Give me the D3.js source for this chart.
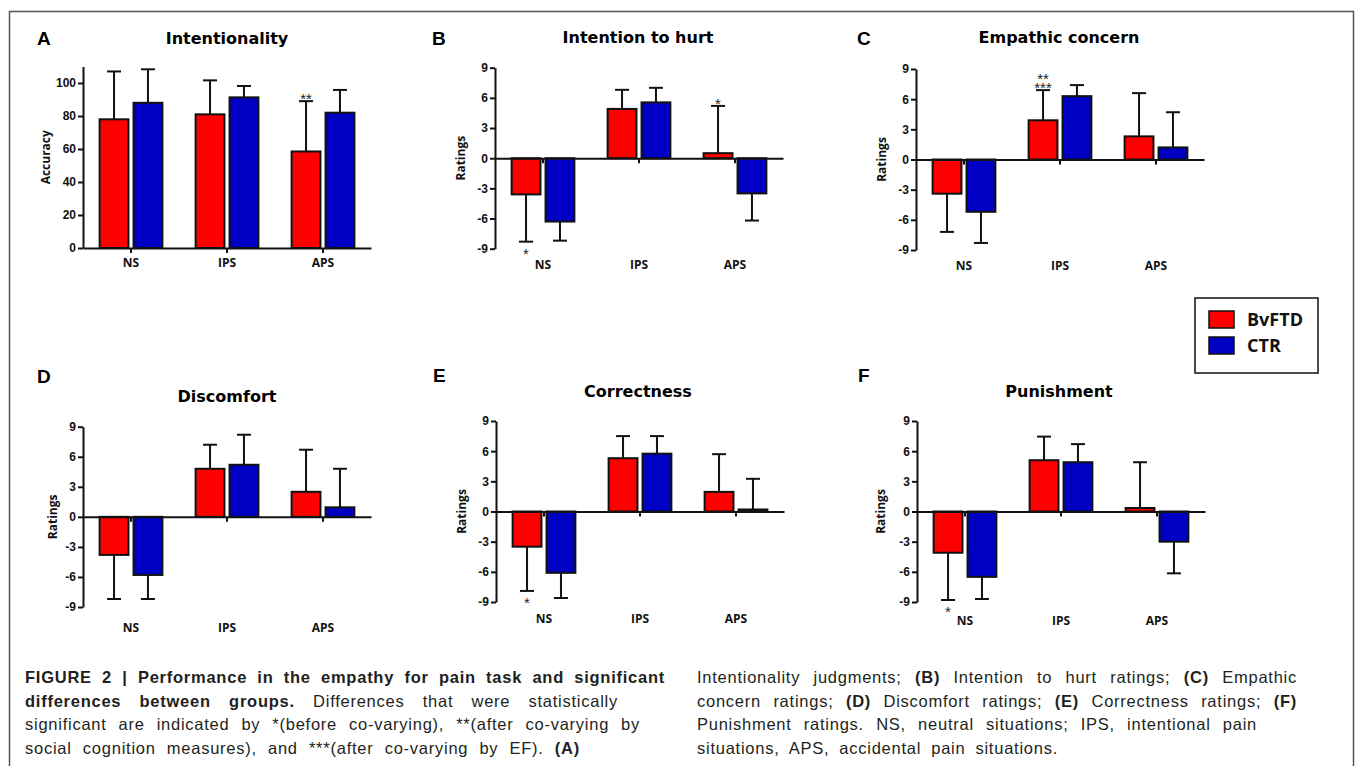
<!DOCTYPE html>
<html>
<head>
<meta charset="utf-8">
<script src="https://cdn.jsdelivr.net/npm/d3@7"></script>
<style>
  body { margin: 0; background: #fff; }
  svg { display: block; }
</style>
</head>
<body>
<svg width="1355" height="766"></svg>
<script>
// ---- data ----
const categories = ['NS', 'IPS', 'APS']
const groups = ['BvFTD', 'CTR']
const groupColors = ['#ff0000', '#0000c4']

const panelLetters = ['A', 'B', 'C', 'D', 'E', 'F']
const panelTitles = ['Intentionality', 'Intention to hurt', 'Empathic concern', 'Discomfort', 'Correctness', 'Punishment']
const yTitles = ['Accuracy', 'Ratings', 'Ratings', 'Ratings', 'Ratings', 'Ratings']

// one row per panel, values in category order NS, IPS, APS
const bvftdMeans = [
  [78, 81, 58.5],
  [-3.6, 4.9, 0.5],
  [-3.4, 3.9, 2.3],
  [-3.8, 4.8, 2.5],
  [-3.5, 5.3, 1.95],
  [-4.1, 5.1, 0.35]
]
const bvftdErrTips = [
  [107, 101.6, 89],
  [-8.3, 6.8, 5.2],
  [-7.2, 6.9, 6.6],
  [-8.2, 7.2, 6.7],
  [-7.9, 7.5, 5.7],
  [-8.8, 7.45, 4.9]
]
const ctrMeans = [
  [88, 91.3, 82],
  [-6.3, 5.55, -3.5],
  [-5.2, 6.3, 1.2],
  [-5.8, 5.2, 0.95],
  [-6.1, 5.75, 0.2],
  [-6.5, 4.9, -3.0]
]
const ctrErrTips = [
  [108.3, 98.2, 95.8],
  [-8.2, 7.0, -6.2],
  [-8.3, 7.4, 4.7],
  [-8.2, 8.2, 4.8],
  [-8.6, 7.5, 3.25],
  [-8.7, 6.7, -6.15]
]

const accuracyTicks = [0, 20, 40, 60, 80, 100]
const accuracyDomain = [0, 110]
const ratingTicks = [-9, -6, -3, 0, 3, 6, 9]
const ratingDomain = [-9, 9]

// significance marks (all on the BvFTD bar)
const sigPanels = [0, 1, 1, 2, 4, 5]
const sigCats = ['APS', 'NS', 'APS', 'IPS', 'NS', 'NS']
const sigMarks = [['**'], ['*'], ['*'], ['**', '***'], ['*'], ['*']]

// ---- layout (pixels) ----
const layout = [
  {x0: 83,  yTop: 66.5,  yBot: 248,   letter: [37, 45],   title: [227, 44],  ylab: 46,  catDy: 19},
  {x0: 495, yTop: 67.7,  yBot: 248.7, letter: [432, 45],  title: [638, 43],  ylab: 461, catDy: 20},
  {x0: 916, yTop: 69,    yBot: 250,   letter: [857, 45],  title: [1059, 43], ylab: 882, catDy: 20},
  {x0: 83,  yTop: 426.7, yBot: 607,   letter: [37, 383],  title: [227, 402], ylab: 53,  catDy: 25},
  {x0: 496, yTop: 421,   yBot: 602,   letter: [433, 382], title: [638, 397], ylab: 462, catDy: 21},
  {x0: 917, yTop: 421,   yBot: 602,   letter: [858, 382], title: [1059, 397], ylab: 881, catDy: 23}
]
const bandWidth = 288

const svg = d3.select('svg')
svg.append('rect').attr('width', 1355).attr('height', 766).attr('fill', '#fff')

// figure frame
svg.append('path')
  .attr('d', 'M9.5,780 V11.5 H1353.5 V780')
  .attr('fill', 'none')
  .attr('stroke', '#555')
  .attr('stroke-width', 1.5)

const boldSans = '"Liberation Sans", Arial, sans-serif'
const labelFont = '"Open Sans", sans-serif'

layout.forEach((L, p) => {
  const isAcc = p === 0
  const y = d3.scaleLinear()
    .domain(isAcc ? accuracyDomain : ratingDomain)
    .range([L.yBot, L.yTop])
  const x = d3.scaleBand().domain(categories).range([L.x0, L.x0 + bandWidth])
  const xg = d3.scaleBand().domain(groups).range([0, x.bandwidth()])
    .paddingInner(0.15).paddingOuter(0.49)

  const g = svg.append('g')

  g.append('text')
    .attr('x', L.letter[0]).attr('y', L.letter[1])
    .attr('font-family', boldSans).attr('font-weight', 'bold')
    .attr('font-size', 19).text(panelLetters[p])

  g.append('text')
    .attr('x', L.title[0]).attr('y', L.title[1])
    .attr('text-anchor', 'middle')
    .attr('font-family', '"DejaVu Sans", sans-serif').attr('font-weight', 'bold')
    .attr('font-size', 16).text(panelTitles[p])

  const rows = categories.map((c, i) => [
    {cat: c, grp: 0, v: bvftdMeans[p][i], e: bvftdErrTips[p][i]},
    {cat: c, grp: 1, v: ctrMeans[p][i], e: ctrErrTips[p][i]}
  ]).flat()
  const cx = d => x(d.cat) + xg(groups[d.grp]) + xg.bandwidth() / 2

  // error bars
  const eb = g.selectAll('.err').data(rows).enter().append('g')
    .attr('stroke', '#111').attr('stroke-width', 2)
  eb.append('line')
    .attr('x1', cx).attr('x2', cx)
    .attr('y1', d => y(d.v)).attr('y2', d => y(d.e))
  eb.append('line')
    .attr('x1', d => cx(d) - 7).attr('x2', d => cx(d) + 7)
    .attr('y1', d => y(d.e)).attr('y2', d => y(d.e))

  g.selectAll('.bar').data(rows).enter().append('rect')
    .attr('x', d => x(d.cat) + xg(groups[d.grp]))
    .attr('width', xg.bandwidth())
    .attr('y', d => Math.min(y(d.v), y(0)))
    .attr('height', d => Math.abs(y(d.v) - y(0)))
    .attr('fill', d => groupColors[d.grp])
    .attr('stroke', '#111').attr('stroke-width', 2)

  // y axis
  const yAxis = g.append('g')
    .attr('transform', `translate(${L.x0},0)`)
    .call(d3.axisLeft(y).tickValues(isAcc ? accuracyTicks : ratingTicks)
      .tickSize(5).tickSizeOuter(0).tickPadding(2).tickFormat(d => String(d)))
  yAxis.selectAll('path, line').attr('stroke', '#111').attr('stroke-width', 2)
  yAxis.selectAll('text')
    .attr('font-family', boldSans).attr('font-weight', 'bold')
    .attr('font-size', 12).attr('fill', '#111')

  // x axis along zero
  const xAxis = g.append('g')
    .attr('transform', `translate(0,${y(0)})`)
    .call(d3.axisBottom(x).tickSize(5).tickSizeOuter(0).tickFormat(''))
  xAxis.selectAll('path, line').attr('stroke', '#111').attr('stroke-width', 2)

  // category labels under the plot
  g.selectAll('.cat').data(categories).enter().append('text')
    .attr('x', d => x(d) + x.bandwidth() / 2)
    .attr('y', L.yBot + L.catDy)
    .attr('text-anchor', 'middle')
    .attr('font-family', labelFont).attr('font-weight', 'bold')
    .attr('font-size', 12).attr('fill', '#111')
    .text(d => d)

  g.append('text')
    .attr('transform', `translate(${L.ylab},${(L.yTop + L.yBot) / 2}) rotate(-90)`)
    .attr('text-anchor', 'middle').attr('dy', '0.35em')
    .attr('font-family', labelFont).attr('font-weight', 'bold')
    .attr('font-size', 12).attr('fill', '#111')
    .text(yTitles[p])

  // significance stars
  sigPanels.forEach((sp, k) => {
    if (sp !== p) return
    const ci = categories.indexOf(sigCats[k])
    const tip = bvftdErrTips[p][ci]
    const sx = cx({cat: sigCats[k], grp: 0})
    const marks = sigMarks[k]
    const above = tip > 0
    const base = above ? y(tip) + 3 - (marks.length - 1) * 9 : y(tip) + 17
    const t = g.append('text')
      .attr('y', base)
      .attr('text-anchor', 'middle')
      .attr('font-family', boldSans).attr('font-size', 15)
      .attr('fill', '#222')
    marks.forEach((m, j) => {
      t.append('tspan').attr('x', sx).attr('dy', j === 0 ? 0 : 9).text(m)
    })
  })
})

// legend
const leg = svg.append('g')
leg.append('rect').attr('x', 1195).attr('y', 298).attr('width', 123).attr('height', 75)
  .attr('fill', '#fff').attr('stroke', '#111').attr('stroke-width', 1.5)
groups.forEach((gname, i) => {
  leg.append('rect').attr('x', 1209).attr('y', 311 + i * 26).attr('width', 25).attr('height', 17)
    .attr('fill', groupColors[i]).attr('stroke', '#111').attr('stroke-width', 1.5)
  leg.append('text').attr('x', 1247).attr('y', 326 + i * 26)
    .attr('font-family', labelFont).attr('font-weight', 'bold')
    .attr('font-size', 18).attr('fill', '#111').text(gname)
})

// caption
const capLeft = [
  {w: 640, segs: [['FIGURE 2 | Performance in the empathy for pain task and significant', true]]},
  {w: 593, segs: [['differences between groups.', true], [' Differences that were statistically', false]]},
  {w: 615, segs: [['significant are indicated by *(before co-varying), **(after co-varying by', false]]},
  {w: 555, segs: [['social cognition measures), and ***(after co-varying by EF). ', false], ['(A)', true]]}
]
const capRight = [
  {w: 600, segs: [['Intentionality judgments; ', false], ['(B)', true], [' Intention to hurt ratings; ', false], ['(C)', true], [' Empathic', false]]},
  {w: 600, segs: [['concern ratings; ', false], ['(D)', true], [' Discomfort ratings; ', false], ['(E)', true], [' Correctness ratings; ', false], ['(F)', true]]},
  {w: 560, segs: [['Punishment ratings. NS, neutral situations; IPS, intentional pain', false]]},
  {w: 361, segs: [['situations, APS, accidental pain situations.', false]]}
]

function captionColumn(lines, x0) {
  lines.forEach((ln, i) => {
    const t = svg.append('text')
      .attr('x', x0).attr('y', 683 + i * 23.5)
      .attr('font-family', '"Liberation Sans", Arial, sans-serif')
      .attr('font-size', 16.5).attr('fill', '#231f20')
      .attr('letter-spacing', 0.75)
      .style('white-space', 'pre')
    ln.segs.forEach(s => {
      t.append('tspan').attr('font-weight', s[1] ? 'bold' : 'normal').text(s[0])
    })
    const full = ln.segs.map(s => s[0]).join('')
    const spaces = (full.match(/ /g) || []).length
    const natural = t.node().getComputedTextLength()
    if (spaces > 0) t.attr('word-spacing', Math.max(0, (ln.w - natural) / spaces))
  })
}
captionColumn(capLeft, 25)
captionColumn(capRight, 697)
</script>
</body>
</html>
